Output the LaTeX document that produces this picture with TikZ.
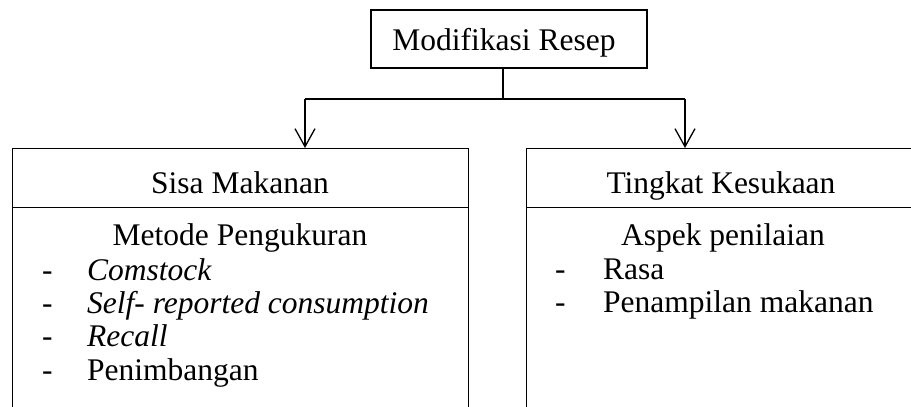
\documentclass[tikz,border=0pt]{standalone}
\usepackage{fontspec}
\setmainfont{Liberation Serif}
\usetikzlibrary{arrows.meta}
\begin{document}
\begin{tikzpicture}[x=1pt,y=-1pt,
  box/.style={draw, line width=1.1pt, inner sep=0pt},
  txt/.style={inner sep=0pt, font=\fontsize{31.5}{34}\selectfont},
  conn/.style={line width=1.1pt},
  arr/.style={line width=1.1pt, -{Straight Barb[length=18pt,width=20pt,line width=1.3pt]}}]
\useasboundingbox (0,0) rectangle (911,407);
% top box
\node[box, minimum width=276pt, minimum height=58pt] (top) at (509,39) {};
\node[txt, anchor=base] (toptxt) at (504,50) {Modifikasi Resep};
% left box
\node[box, minimum width=456pt, minimum height=59pt, anchor=north west] (sisa) at (12,148) {};
\node[box, minimum width=456pt, minimum height=240pt, anchor=north west] (sisab) at (12,207) {};
\node[txt, anchor=base] (sisat) at (240,193) {Sisa Makanan};
\node[txt, anchor=base] (metode) at (240,245) {Metode Pengukuran};
\node[txt, anchor=base west] (d1) at (42,280) {-};
\node[txt, anchor=base west] (d2) at (42,313) {-};
\node[txt, anchor=base west] (d3) at (42,346) {-};
\node[txt, anchor=base west] (d4) at (42,380) {-};
\node[txt, anchor=base west] (i1) at (87,280) {\textit{Comstock}};
\node[txt, anchor=base west] (i2) at (87,313) {\textit{Self- reported consumption}};
\node[txt, anchor=base west] (i3) at (87,346) {\textit{Recall}};
\node[txt, anchor=base west] (i4) at (87,380) {Penimbangan};
% right box
\node[box, minimum width=400pt, minimum height=59pt, anchor=north west] (suka) at (526,148) {};
\node[box, minimum width=400pt, minimum height=240pt, anchor=north west] (sukab) at (526,207) {};
\node[txt, anchor=base] (sukat) at (721,193) {Tingkat Kesukaan};
\node[txt, anchor=base] (aspek) at (723,245) {Aspek penilaian};
\node[txt, anchor=base west] (e1) at (555,279) {-};
\node[txt, anchor=base west] (e2) at (555,312) {-};
\node[txt, anchor=base west] (r1) at (603,279) {Rasa};
\node[txt, anchor=base west] (r2) at (603,312) {Penampilan makanan};
% connectors
\coordinate (j) at (503,99);
\coordinate (jl) at (305,99);
\coordinate (jr) at (685,99);
\draw[conn] (top.south -| j) -- (j);
\draw[conn] (jl) -- (jr);
\draw[arr] (jl) -- (jl |- sisa.north);
\draw[arr] (jr) -- (jr |- suka.north);
\end{tikzpicture}
\end{document}
